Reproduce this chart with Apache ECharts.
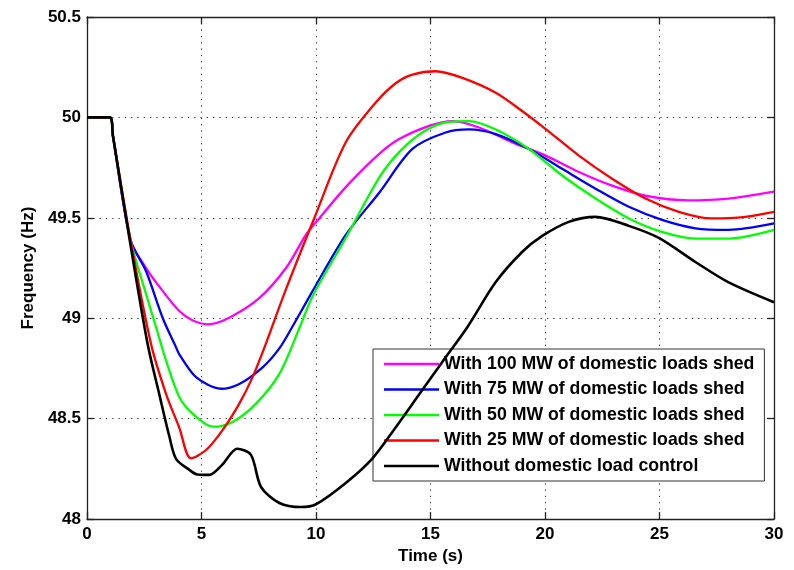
<!DOCTYPE html>
<html>
<head>
<meta charset="utf-8">
<script src="https://cdn.jsdelivr.net/npm/echarts@6/dist/echarts.min.js"></script>
<style>
  html, body { margin: 0; padding: 0; background: #fff; }
  #chart { width: 794px; height: 570px; }
</style>
</head>
<body>
<div id="chart"></div>
<script>
// Frequency response after a generation loss, for several amounts of domestic load shedding.
// Each series is a list of [time (s), frequency (Hz)] samples.

const seriesNames = [
  'With 100 MW of domestic loads shed',
  'With 75 MW of domestic loads shed',
  'With 50 MW of domestic loads shed',
  'With 25 MW of domestic loads shed',
  'Without domestic load control'
];

const seriesColors = ['#ff00ff', '#0000ff', '#00ff00', '#ff0000', '#000000'];

// Common start: steady 50 Hz, then the initial drop before shedding acts
const initialDrop = [[0, 50], [1.0, 50], [1.13, 49.91], [1.9, 49.39]];

const shed100 = [
  [2.58, 49.25], [3.31, 49.135], [4.03, 49.036], [4.6, 48.99], [5.27, 48.97],
  [6.21, 49.003], [7.52, 49.10], [8.69, 49.25], [9.56, 49.415], [10.14, 49.497],
  [11.3, 49.653], [12.76, 49.818], [13.63, 49.892], [14.94, 49.958], [15.95, 49.982],
  [17.12, 49.95], [18.57, 49.876], [20.03, 49.81], [21.48, 49.728], [22.93, 49.66],
  [24.39, 49.61], [26.27, 49.587], [28.02, 49.596], [30, 49.63]
];

const shed75 = [
  [2.58, 49.234], [3.31, 49.0], [3.89, 48.855], [4.03, 48.82], [4.76, 48.707],
  [5.85, 48.649], [6.65, 48.673], [7.67, 48.756], [8.4, 48.85], [8.98, 48.96],
  [9.85, 49.135], [11.3, 49.415], [12.76, 49.625], [14.21, 49.843], [15.66, 49.925],
  [16.68, 49.94], [17.85, 49.917], [19.3, 49.843], [20.75, 49.744], [22.21, 49.645],
  [23.66, 49.555], [25.11, 49.49], [26.57, 49.448], [28.02, 49.44], [30, 49.472]
];

const shed50 = [
  [2.58, 49.12], [3.02, 48.954], [3.45, 48.79], [4.03, 48.608], [4.61, 48.525],
  [5.49, 48.46], [6.36, 48.484], [7.38, 48.575], [8.4, 48.723], [9.27, 48.95],
  [9.85, 49.11], [11.3, 49.40], [12.76, 49.70], [13.63, 49.827], [14.64, 49.925],
  [15.66, 49.975], [16.68, 49.982], [17.85, 49.94], [19.3, 49.843], [20.75, 49.711],
  [22.21, 49.596], [23.66, 49.497], [25.11, 49.43], [26.57, 49.397], [28.02, 49.397],
  [30, 49.44]
];

const shed25 = [
  [2.8, 48.87], [3.45, 48.624], [4.03, 48.455], [4.54, 48.303], [5.2, 48.344],
  [5.92, 48.443], [6.65, 48.575], [7.23, 48.707], [7.75, 48.855], [8.69, 49.145],
  [9.92, 49.497], [11.3, 49.876], [12.61, 50.074], [13.48, 50.17], [14.21, 50.213],
  [15.23, 50.23], [16.39, 50.197], [17.85, 50.123], [19.0, 50.032], [20.03, 49.942],
  [21.48, 49.81], [22.93, 49.695], [24.39, 49.596], [25.84, 49.53], [27.29, 49.497],
  [28.75, 49.505], [30, 49.53]
];

const noControl = [
  [0, 50], [1.0, 50], [1.13, 49.91], [1.85, 49.40], [2.65, 48.87], [3.16, 48.62],
  [3.6, 48.41], [3.89, 48.30], [4.47, 48.245], [4.82, 48.222], [5.34, 48.22],
  [5.9, 48.27], [6.56, 48.35], [7.16, 48.32], [7.6, 48.16], [8.4, 48.08],
  [9.34, 48.06], [10.0, 48.074], [11.3, 48.18], [12.45, 48.30], [13.5, 48.46],
  [14.5, 48.62], [15.5, 48.78], [16.6, 48.954], [17.85, 49.18], [19.0, 49.33],
  [19.88, 49.41], [21.04, 49.48], [22.2, 49.505], [23.66, 49.46], [24.97, 49.40],
  [26.57, 49.28], [28.0, 49.18], [30, 49.08]
];

const xTicks = { min: 0, max: 30, interval: 5 };
const yTicks = { min: 48, max: 50.5, interval: 0.5 };

const seriesData = [
  initialDrop.concat(shed100),
  initialDrop.concat(shed75),
  initialDrop.concat(shed50),
  initialDrop.concat(shed25),
  noControl
];

const FONT = '"Liberation Sans", Arial, Helvetica, sans-serif';
const axisColor = '#222';

const chart = echarts.init(document.getElementById('chart'), null, { renderer: 'canvas' });

const gridDots = { color: '#333', width: 1, type: [1.3, 5] };

chart.setOption({
  backgroundColor: '#ffffff',
  animation: false,
  grid: { left: 87, right: 20, top: 17, bottom: 47, containLabel: false },
  legend: {
    data: seriesNames.map((name) => ({ name: name, icon: 'rect' })),
    orient: 'vertical',
    left: 373,
    top: 349,
    itemWidth: 55,
    itemHeight: 2.5,
    itemGap: 5.5,
    padding: [5, 10, 5, 11],
    backgroundColor: '#ffffff',
    borderColor: '#333',
    borderWidth: 1,
    textStyle: { fontFamily: FONT, fontWeight: 'bold', fontSize: 17.7, lineHeight: 20, color: '#000' }
  },
  xAxis: [{
    type: 'value', position: 'bottom',
    min: xTicks.min, max: xTicks.max, interval: xTicks.interval,
    name: 'Time (s)', nameLocation: 'middle', nameGap: 28,
    nameTextStyle: { fontFamily: FONT, fontWeight: 'bold', fontSize: 17, color: '#000' },
    axisLine: { onZero: false, lineStyle: { color: axisColor, width: 1.3 } },
    axisTick: { inside: true, length: 7, lineStyle: { color: axisColor, width: 1.3 } },
    axisLabel: { margin: 7, fontFamily: FONT, fontWeight: 'bold', fontSize: 17, color: '#000' },
    splitLine: { show: true, lineStyle: gridDots }
  }, {
    type: 'value', position: 'top',
    min: xTicks.min, max: xTicks.max, interval: xTicks.interval,
    axisLine: { onZero: false, lineStyle: { color: axisColor, width: 1.3 } },
    axisTick: { inside: true, length: 7, lineStyle: { color: axisColor, width: 1.3 } },
    axisLabel: { show: false },
    splitLine: { show: false }
  }],
  yAxis: [{
    type: 'value', position: 'left',
    min: yTicks.min, max: yTicks.max, interval: yTicks.interval,
    name: 'Frequency (Hz)', nameLocation: 'middle', nameGap: 50,
    nameTextStyle: { fontFamily: FONT, fontWeight: 'bold', fontSize: 17, color: '#000' },
    axisLine: { onZero: false, lineStyle: { color: axisColor, width: 1.3 } },
    axisTick: { inside: true, length: 7, lineStyle: { color: axisColor, width: 1.3 } },
    axisLabel: { margin: 6, fontFamily: FONT, fontWeight: 'bold', fontSize: 17, color: '#000' },
    splitLine: { show: true, lineStyle: gridDots }
  }, {
    type: 'value', position: 'right',
    min: yTicks.min, max: yTicks.max, interval: yTicks.interval,
    axisLine: { onZero: false, lineStyle: { color: axisColor, width: 1.3 } },
    axisTick: { inside: true, length: 7, lineStyle: { color: axisColor, width: 1.3 } },
    axisLabel: { show: false },
    splitLine: { show: false }
  }],
  series: seriesNames.map((name, i) => ({
    name: name,
    type: 'line',
    data: seriesData[i],
    smooth: 0.3,
    symbol: 'none',
    color: seriesColors[i],
    lineStyle: { color: seriesColors[i], width: i === 4 ? 2.6 : 2.3 },
    z: 2 + i
  }))
});
</script>
</body>
</html>
